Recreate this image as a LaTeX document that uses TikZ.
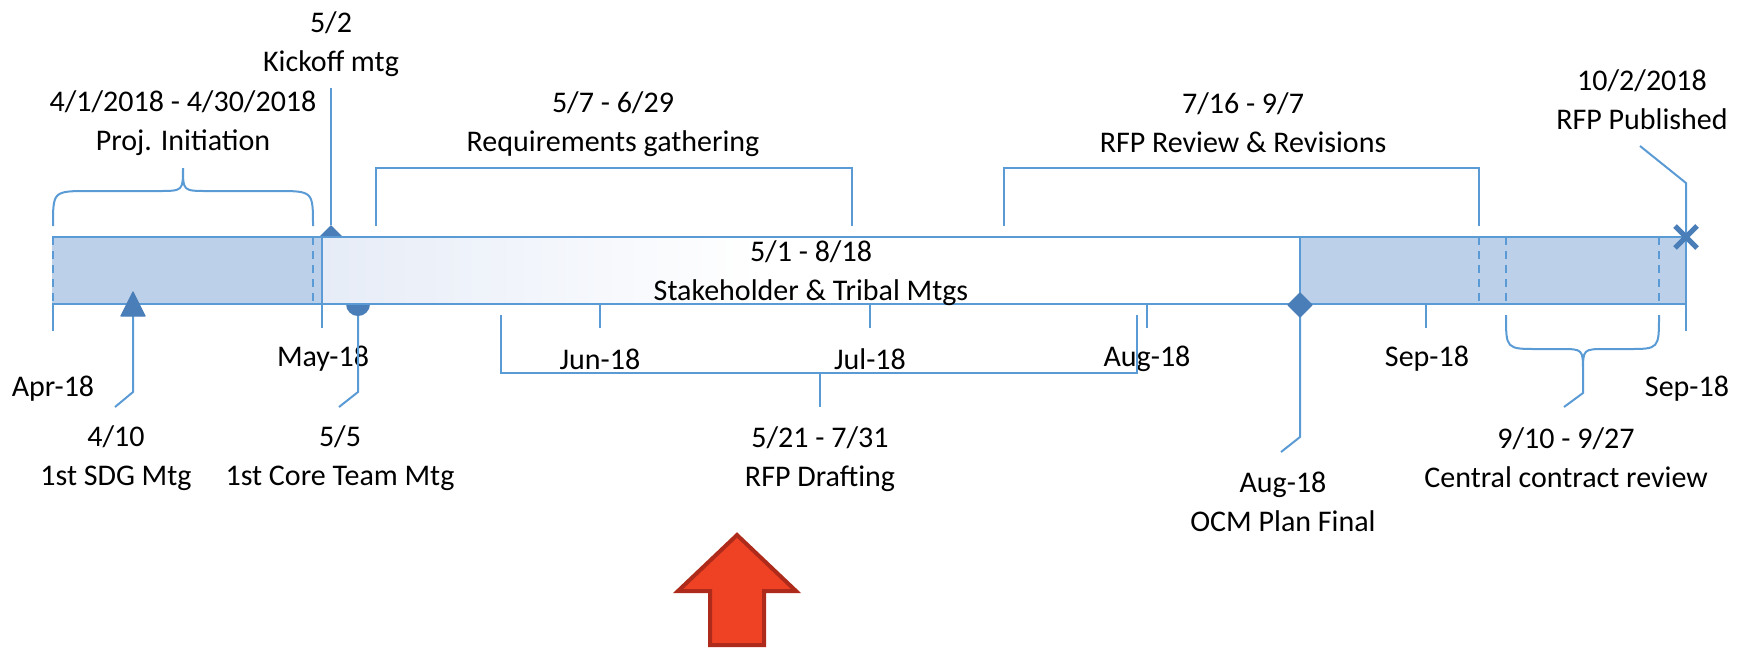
\documentclass[tikz,border=0pt]{standalone}
\usepackage{fontspec}
\setmainfont{Carlito}
\definecolor{barfill}{RGB}{189,208,233}
\definecolor{tline}{RGB}{91,155,213}
\definecolor{markc}{RGB}{74,126,184}
\definecolor{shadel}{RGB}{230,236,247}
\definecolor{arrowfill}{RGB}{239,65,35}
\definecolor{arrowdraw}{RGB}{174,42,26}
\begin{document}
\begin{tikzpicture}[x=0.5pt,y=-0.5pt,
  lbl/.style={font=\fontsize{15}{19.5}\selectfont, align=center, inner sep=0pt},
  tl/.style={draw=tline, line width=1pt},
  dashline/.style={draw=tline, line width=1pt, dash pattern=on 4pt off 3pt},
  markfill/.style={fill=markc, draw=markc, line width=0.6pt, line join=round},
]
\useasboundingbox (0,0) rectangle (1745,650);

% ---- bar ----
\fill[barfill] (52,237) rectangle (322,304);
\fill[barfill] (1300,237) rectangle (1686,304);
\shade[left color=shadel, right color=white] (322,237) rectangle (760,304);
\fill[white] (760,237) rectangle (1300,304);
% 5/5 marker (lower half visible below the bar)
\coordinate (corem) at (358,304);
\fill[markc] (346,304) arc[start angle=180, end angle=360, radius=6pt] -- cycle;
% kickoff marker (upper half visible above the bar)
\coordinate (kickm) at (331,225);
\fill[markc] (319,237) -- (kickm) -- (343,237) -- cycle;
\draw[tl] (52,237) -- (1686,237);
\draw[tl] (52,304) -- (1686,304);
\draw[tl] (322,237) -- (322,304);
\draw[tl] (1300,237) -- (1300,304);
\draw[tl] (1686,237) -- (1686,304);
\draw[dashline] (53,237) -- (53,304);
\draw[dashline] (313,237) -- (313,304);
\draw[dashline] (1479,237) -- (1479,304);
\draw[dashline] (1506,237) -- (1506,304);
\draw[dashline] (1659,237) -- (1659,304);

% ---- ticks ----
\draw[tl] (53,304) -- (53,331);
\draw[tl] (322,304) -- (322,328);
\draw[tl] (600,304) -- (600,328);
\draw[tl] (870,304) -- (870,328);
\draw[tl] (1147,304) -- (1147,328);
\draw[tl] (1426,304) -- (1426,328);
\draw[tl] (1686,304) -- (1686,331);

% ---- axis labels ----
\node[lbl] (axapr) at (53,389) {Apr-18};
\node[lbl] (axmay) at (323,359) {May-18};
\node[lbl] (axjun) at (600,359) {Jun-18};
\node[lbl] (axjul) at (870,359) {Jul-18};
\node[lbl] (axaug) at (1147,359) {Aug-18};
\node[lbl] (axsep) at (1427,359) {Sep-18};
\node[lbl] (axsepb) at (1687,389) {Sep-18};

% ---- text labels ----
\node[lbl] (init) at (183,123) {4/1/2018 - 4/30/2018\\Proj. Initiation};
\node[lbl] (kick) at (331,44) {5/2\\Kickoff mtg};
\node[lbl] (req) at (613,124) {5/7 - 6/29\\Requirements gathering};
\node[lbl] (rev) at (1243,123) {7/16 - 9/7\\RFP Review \& Revisions};
\node[lbl] (pub) at (1642,100) {10/2/2018\\RFP Published};
\node[lbl] (stake) at (811,273) {5/1 - 8/18\\Stakeholder \& Tribal Mtgs};
\node[lbl] (sdg) at (116,458) {4/10\\1st SDG Mtg};
\node[lbl] (core) at (340,458) {5/5\\1st Core Team Mtg};
\node[lbl] (draft) at (820,459) {5/21 - 7/31\\RFP Drafting};
\node[lbl] (ocm) at (1283,502) {Aug-18\\OCM Plan Final};
\node[lbl] (central) at (1566,458) {9/10 - 9/27\\Central contract review};

% ---- braces ----
\draw[tl] (53,226) .. controls (53,191) .. (90,191) -- (158,191)
  .. controls (183,191) .. (183,168) .. controls (183,191) .. (208,191)
  -- (276,191) .. controls (313,191) .. (313,226);
\draw[tl] (1506,315) .. controls (1506,349) .. (1538,349) -- (1560,349)
  .. controls (1583,349) .. (1583,372) .. controls (1583,349) .. (1606,349)
  -- (1628,349) .. controls (1659,349) .. (1659,315);

% ---- brackets ----
\draw[tl] (376,226) -- (376,168) -- (852,168) -- (852,226);
\draw[tl] (1004,226) -- (1004,168) -- (1479,168) -- (1479,226);
\draw[tl] (501,315) -- (501,373) -- (1137,373) -- (1137,315);
\coordinate (draftstem) at (820,373);
\coordinate (draftend) at (820,407);
\draw[tl] (draftstem) -- (draftend);

% ---- markers and leaders ----
\coordinate (kicktop) at (331,88);
\draw[tl] (kicktop) -- (kickm);
\coordinate (corebend) at (358,392);
\coordinate (coreend) at (339,407);
\draw[tl] (358,316) -- (corebend) -- (coreend);
% SDG triangle
\coordinate (sdgbend) at (133,392);
\coordinate (sdgend) at (115,407);
\draw[tl] (133,316) -- (sdgbend) -- (sdgend);
\filldraw[markfill] (133,292) -- (145,316) -- (121,316) -- cycle;
% OCM diamond
\coordinate (ocmbend) at (1300,437);
\coordinate (ocmend) at (1281,452);
\draw[tl] (1300,315) -- (ocmbend) -- (ocmend);
\filldraw[markfill] (1300,293) -- (1312,305) -- (1300,317) -- (1288,305) -- cycle;
% central contract leader
\coordinate (cenbend) at (1583,393);
\coordinate (cenend) at (1564,407);
\draw[tl] (1583,372) -- (cenbend) -- (cenend);
% RFP published
\coordinate (pubstart) at (1640,146);
\coordinate (pubbend) at (1686,183);
\coordinate (pubm) at (1686,237);
\draw[tl] (pubstart) -- (pubbend) -- (pubm);
\draw[markc, line width=2.6pt] (1675,226) -- (1697,248);
\draw[markc, line width=2.6pt] (1675,248) -- (1697,226);

% ---- red arrow ----
\filldraw[fill=arrowfill, draw=arrowdraw, line width=2pt, line join=miter]
  (737,535) -- (796,591) -- (764,591) -- (764,645) -- (710,645) -- (710,591) -- (678,591) -- cycle;
\end{tikzpicture}
\end{document}
